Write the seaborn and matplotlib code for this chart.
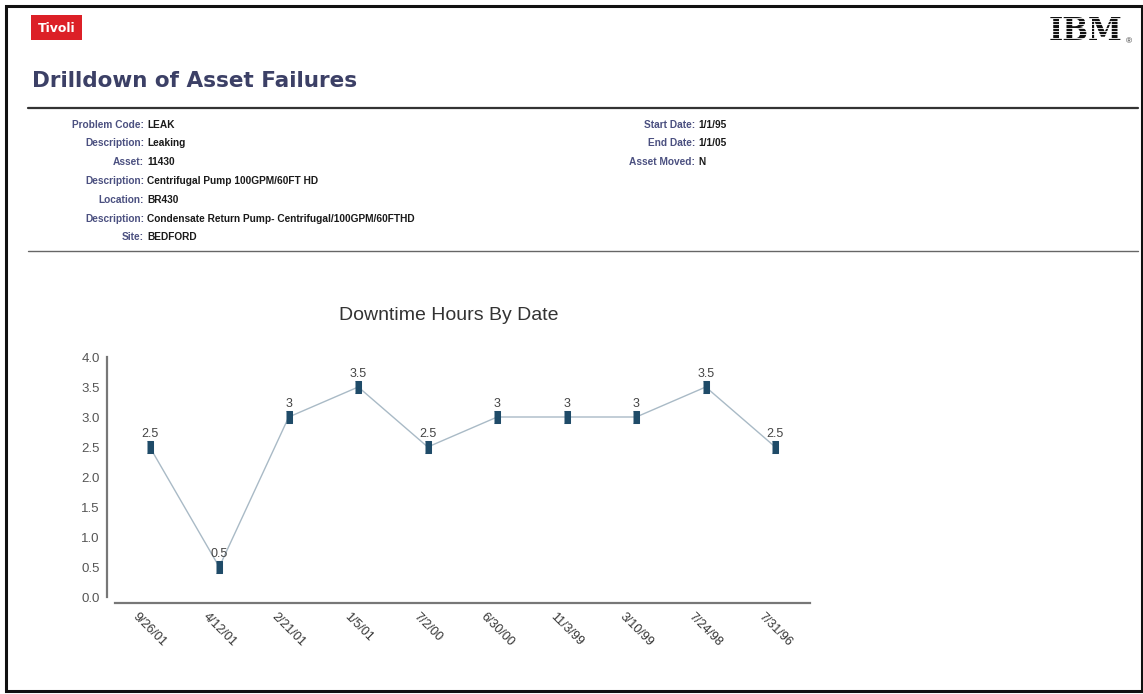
import numpy as np
import pandas as pd
import matplotlib
matplotlib.use('Agg')
import matplotlib.pyplot as plt
from matplotlib.lines import Line2D
from matplotlib.patches import Rectangle
import seaborn as sns

# --- data ---
dates = ['9/26/01', '4/12/01', '2/21/01', '1/5/01', '7/2/00',
         '6/30/00', '11/3/99', '3/10/99', '7/24/98', '7/31/96']
hours = [2.5, 0.5, 3, 3.5, 2.5, 3, 3, 3, 3.5, 2.5]
y_ticks = [0.0, 0.5, 1.0, 1.5, 2.0, 2.5, 3.0, 3.5, 4.0]

left_labels = ['Problem Code:', 'Description:', 'Asset:', 'Description:',
               'Location:', 'Description:', 'Site:']
left_values = ['LEAK', 'Leaking', '11430', 'Centrifugal Pump 100GPM/60FT HD',
               'BR430', 'Condensate Return Pump- Centrifugal/100GPM/60FTHD',
               'BEDFORD']
right_labels = ['Start Date:', 'End Date:', 'Asset Moved:']
right_values = ['1/1/95', '1/1/05', 'N']

report_title = 'Drilldown of Asset Failures'
chart_title = 'Downtime Hours By Date'

df = pd.DataFrame({'date': dates, 'hours': hours})

W, H = 1143, 694


def px(x, y):
    # pixel coords (top-left origin) -> figure fraction
    return x / W, 1 - y / H


sns.set_style('white')
plt.rcParams['font.family'] = ['Liberation Sans', 'DejaVu Sans']

fig = plt.figure(figsize=(W / 100, H / 100), dpi=100)
fig.patch.set_facecolor('white')

# --- page frame and header ---
x0, y0 = px(6, 691)
x1, y1 = px(1142, 6)
fig.add_artist(Rectangle((x0, y0), x1 - x0, y1 - y0, transform=fig.transFigure,
                         fill=False, edgecolor='#111111', linewidth=2.2))

tx, ty = px(31, 40)
tw, th = 51 / W, 25 / H
fig.add_artist(Rectangle((tx, ty), tw, th, transform=fig.transFigure,
                         facecolor='#dc2027', edgecolor='none'))
fig.text(*px(56.5, 28), 'Tivoli', color='white', fontsize=9, fontweight='bold',
         ha='center', va='center', family='DejaVu Sans')

# IBM striped logo
fig.text(*px(1085, 31), 'IBM', color='#111111', fontsize=22, fontweight='bold',
         ha='center', va='center', family='DejaVu Serif', zorder=3)
for sy in np.arange(17.8, 45, 3.3):
    a, b = px(1045, sy)
    c, _ = px(1125, sy)
    fig.add_artist(Line2D([a, c], [b, b], transform=fig.transFigure,
                          color='white', linewidth=0.6, zorder=6))
fig.text(*px(1129, 42), '®', color='#333333', fontsize=6, ha='center', va='center')

fig.text(*px(32, 81), report_title, color='#3c4066', fontsize=15.5,
         fontweight='bold', ha='left', va='center', family='DejaVu Sans')

for yy, lw, col in [(108, 1.6, '#333333'), (251, 1.0, '#666666')]:
    a, b = px(28, yy)
    c, _ = px(1138, yy)
    fig.add_artist(Line2D([a, c], [b, b], transform=fig.transFigure,
                          color=col, linewidth=lw))

# --- info block ---
row_y = [125, 143, 162, 181, 200, 219, 237]
for yy, lab, val in zip(row_y, left_labels, left_values):
    fig.text(*px(144, yy), lab, color='#4b5080', fontsize=7.3, fontweight='bold',
             ha='right', va='center')
    fig.text(*px(147, yy), val, color='#1a1a1a', fontsize=7.3, fontweight='bold',
             ha='left', va='center')
for yy, lab, val in zip(row_y[:3], right_labels, right_values):
    fig.text(*px(695, yy), lab, color='#4b5080', fontsize=7.3, fontweight='bold',
             ha='right', va='center')
    fig.text(*px(698, yy), val, color='#1a1a1a', fontsize=7.3, fontweight='bold',
             ha='left', va='center')

# --- chart ---
ax = fig.add_axes([115 / W, 1 - 597 / H, 695 / W, 240 / H])
marker_box = [(-0.42, -1), (0.42, -1), (0.42, 1), (-0.42, 1)]
sns.lineplot(data=df, x='date', y='hours', sort=False, ax=ax,
             color='#a9bac6', linewidth=1.0, marker=marker_box, markersize=9,
             markerfacecolor='#1f4b68', markeredgecolor='#1f4b68')

for i, v in enumerate(hours):
    ax.annotate(f'{v:g}', (i, v), xytext=(0, 5), textcoords='offset points',
                ha='center', va='bottom', fontsize=9, color='#444444')

ax.set_xlim(-0.5, len(dates) - 0.5)
ax.set_ylim(0, 4)
ax.set_yticks(y_ticks)
ax.set_yticklabels([f'{t:.1f}' for t in y_ticks])
ax.set_xlabel('')
ax.set_ylabel('')
ax.tick_params(axis='y', length=0, pad=5, labelsize=9.5, labelcolor='#555555')
ax.tick_params(axis='x', length=0, pad=6, labelsize=9, labelcolor='#333333',
               labelrotation=-45)

sns.despine(ax=ax)
ax.spines['left'].set_position(('outward', 6))
ax.spines['bottom'].set_position(('outward', 4))
for s in ('left', 'bottom'):
    ax.spines[s].set_color('#777777')
    ax.spines[s].set_linewidth(1.6)
ax.set_facecolor('none')

fig.text(*px(449, 316), chart_title, color='#333333', fontsize=14,
         ha='center', va='center')

fig.savefig('out.png', dpi=100, facecolor='white')
